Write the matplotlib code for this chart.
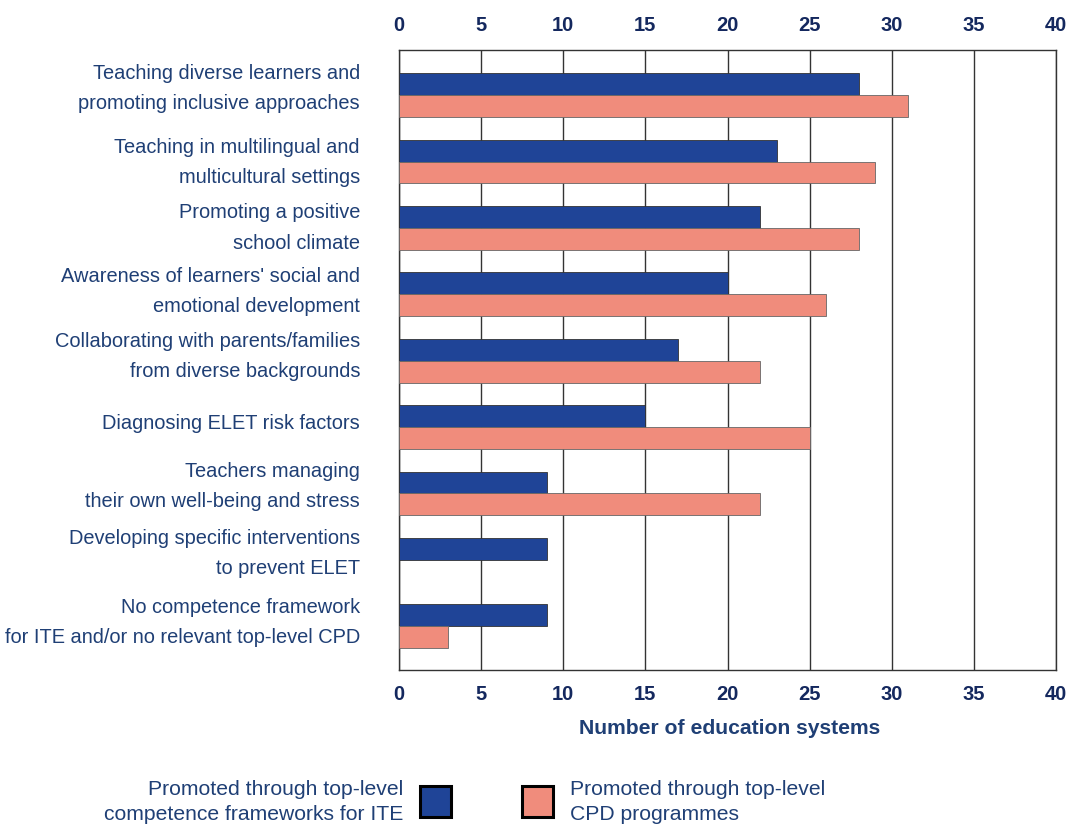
import matplotlib
matplotlib.use("Agg")
import matplotlib.pyplot as plt
from matplotlib.patches import Rectangle
from matplotlib import font_manager
import matplotlib.transforms as mtransforms

categories = [
    "Teaching diverse learners and\npromoting inclusive approaches",
    "Teaching in multilingual and\nmulticultural settings",
    "Promoting a positive\nschool climate",
    "Awareness of learners' social and\nemotional development",
    "Collaborating with parents/families\nfrom diverse backgrounds",
    "Diagnosing ELET risk factors",
    "Teachers managing\ntheir own well-being and stress",
    "Developing specific interventions\nto prevent ELET",
    "No competence framework\nfor ITE and/or no relevant top-level CPD",
]
ite_values = [28, 23, 22, 20, 17, 15, 9, 9, 9]
cpd_values = [31, 29, 28, 26, 22, 25, 22, 0, 3]
series_labels = ["Promoted through top-level\ncompetence frameworks for ITE",
                 "Promoted through top-level\nCPD programmes"]
x_ticks = [0, 5, 10, 15, 20, 25, 30, 35, 40]
x_label = "Number of education systems"

# layout: upward nudge (pixels) of each category label relative to its row
label_nudge_px = [7, -1, 0, 3, 4, 4, 7, 6, 4]

BLUE = "#1F4497"
SALMON = "#F08C7C"
TEXT = "#1F3F75"
TICK = "#14285E"

names = {f.name for f in font_manager.fontManager.ttflist}
narrow = "Liberation Sans Narrow" if "Liberation Sans Narrow" in names else "Liberation Sans"

fig = plt.figure(figsize=(10.68, 8.25), dpi=100)
ax = fig.add_axes([399/1068, 1-670/825, (1056-399)/1068, (670-50)/825])

h = 0.33
ys = list(range(len(categories)))
ax.barh([y - h/2 for y in ys], ite_values, height=h, color=BLUE,
        edgecolor="#333333", linewidth=0.6, zorder=3)
cpd_y = [y + h/2 for y, v in zip(ys, cpd_values) if v > 0]
cpd_v = [v for v in cpd_values if v > 0]
ax.barh(cpd_y, cpd_v, height=h, color=SALMON, edgecolor="#666666",
        linewidth=0.6, zorder=3)

ax.set_xlim(0, 40)
ax.set_ylim(8.66, -0.68)
ax.set_xticks(x_ticks)
ax.grid(axis="x", color="#333333", linewidth=1.0, zorder=0)
ax.set_yticks(ys)
ax.set_yticklabels([])
ax.tick_params(axis="y", length=0)

# category labels, right aligned left of the axes
base = mtransforms.blended_transform_factory(ax.transAxes, ax.transData)
for y, cat, nud in zip(ys, categories, label_nudge_px):
    offset = mtransforms.ScaledTranslation(-39/100, nud/100, fig.dpi_scale_trans)
    ax.text(0, y, cat, transform=base + offset, ha="right", va="center",
            fontsize=14.4, color=TEXT, family="Liberation Sans",
            linespacing=1.75, multialignment="right")

ax.tick_params(axis="x", length=0, top=True, labeltop=True, pad=11)
for lab in ax.get_xticklabels():
    lab.set_fontfamily(narrow)
    lab.set_fontweight("bold")
    lab.set_fontsize(14.5)
    lab.set_color(TICK)
for sp in ax.spines.values():
    sp.set_color("#333333")
    sp.set_linewidth(1.0)
fig.text(729.5/1068, 1-728/825, x_label, ha="center", va="center",
         fontsize=15.2, fontweight="bold", color=TEXT, family="Liberation Sans")

# Legend
fig.text(403/1068, 1-802/825, series_labels[0], ha="right", va="center",
         fontsize=15.2, color=TEXT, family="Liberation Sans", linespacing=1.45,
         multialignment="right")
fig.patches.append(Rectangle((420/1068, 1-817/825), 31/1068, 31/825,
                             transform=fig.transFigure, facecolor=BLUE,
                             edgecolor="black", linewidth=2.2))
fig.patches.append(Rectangle((522/1068, 1-817/825), 31/1068, 31/825,
                             transform=fig.transFigure, facecolor=SALMON,
                             edgecolor="black", linewidth=2.2))
fig.text(570/1068, 1-802/825, series_labels[1], ha="left", va="center",
         fontsize=15.2, color=TEXT, family="Liberation Sans", linespacing=1.45)

fig.savefig("out.png", dpi=100)
